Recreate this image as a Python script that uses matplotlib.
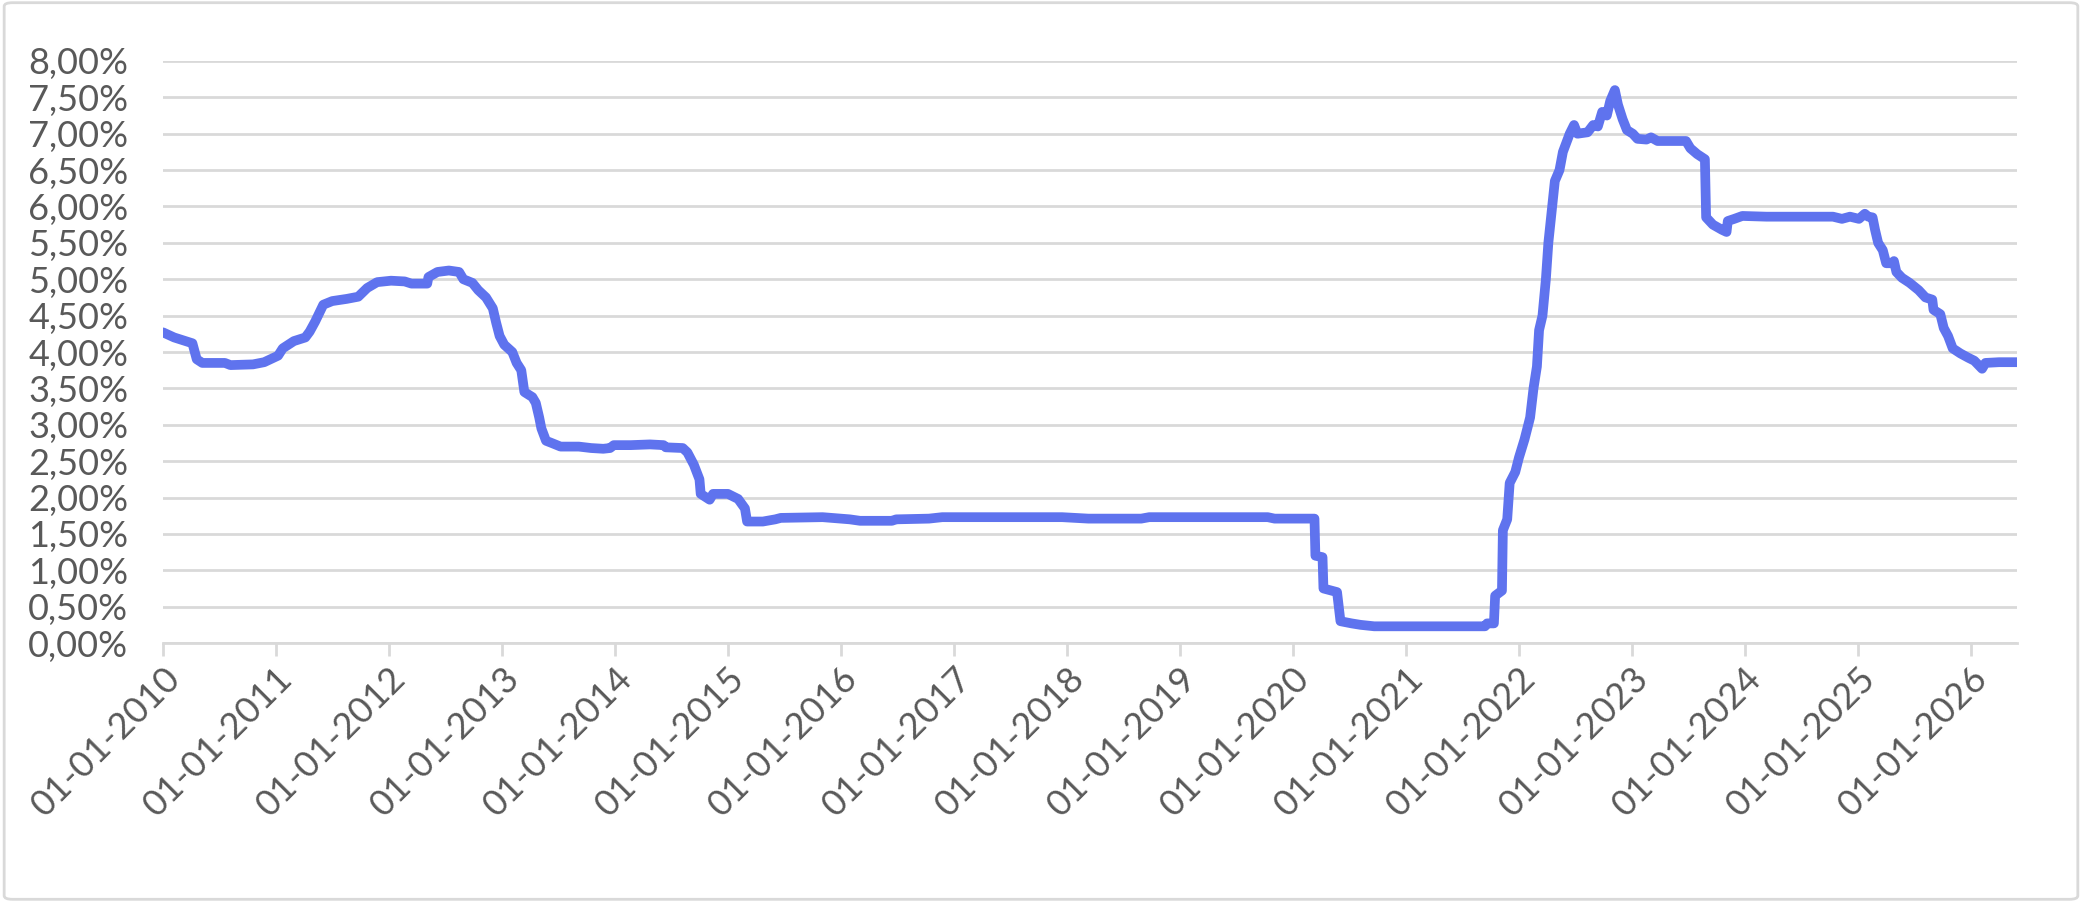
import matplotlib
matplotlib.use("Agg")
import matplotlib.pyplot as plt
import matplotlib.dates as mdates
from matplotlib.patches import FancyBboxPatch
from matplotlib.ticker import FuncFormatter, MultipleLocator
import pandas as pd

# series (rate in %)
dates = [
    "2010-01-01", "2010-02-06", "2010-03-15", "2010-04-06", "2010-04-20", "2010-05-08",
    "2010-07-20", "2010-08-07", "2010-10-19", "2010-11-24", "2011-01-08", "2011-01-23",
    "2011-02-28", "2011-04-06", "2011-04-20", "2011-05-08", "2011-06-03", "2011-07-02",
    "2011-08-18", "2011-09-24", "2011-10-23", "2011-11-24", "2012-01-08", "2012-02-21",
    "2012-03-14", "2012-05-04", "2012-05-08", "2012-06-06", "2012-07-13", "2012-08-15",
    "2012-08-29", "2012-09-27", "2012-10-16", "2012-11-10", "2012-12-02", "2012-12-13",
    "2012-12-24", "2013-01-08", "2013-02-03", "2013-02-17", "2013-03-04", "2013-03-14",
    "2013-04-09", "2013-04-20", "2013-05-01", "2013-05-08", "2013-05-23", "2013-06-10",
    "2013-07-09", "2013-09-06", "2013-10-16", "2013-11-24", "2013-12-16", "2013-12-28",
    "2014-02-21", "2014-04-24", "2014-06-07", "2014-06-14", "2014-08-08", "2014-08-23",
    "2014-09-13", "2014-10-01", "2014-10-05", "2014-11-03", "2014-11-14", "2015-01-01",
    "2015-02-03", "2015-02-25", "2015-03-04", "2015-04-24", "2015-06-03", "2015-06-21",
    "2015-11-03", "2016-01-30", "2016-03-03", "2016-06-14", "2016-06-28", "2016-10-12",
    "2016-11-24", "2017-12-16", "2018-03-11", "2018-08-29", "2018-09-24", "2019-10-12",
    "2019-11-03", "2020-03-11", "2020-03-14", "2020-04-06", "2020-04-09", "2020-05-23",
    "2020-06-03", "2020-07-09", "2020-08-07", "2020-09-20", "2021-09-13", "2021-09-20",
    "2021-10-12", "2021-10-16", "2021-11-07", "2021-11-10", "2021-11-24", "2021-12-02",
    "2021-12-20", "2022-01-01", "2022-01-19", "2022-02-06", "2022-02-17", "2022-02-28",
    "2022-03-07", "2022-03-18", "2022-03-29", "2022-04-06", "2022-04-16", "2022-04-27",
    "2022-05-12", "2022-05-23", "2022-06-14", "2022-06-28", "2022-07-09", "2022-08-11",
    "2022-08-29", "2022-09-13", "2022-09-27", "2022-10-12", "2022-10-23", "2022-11-07",
    "2022-11-17", "2022-12-02", "2022-12-16", "2023-01-04", "2023-01-19", "2023-02-17",
    "2023-03-04", "2023-03-25", "2023-06-25", "2023-07-09", "2023-07-31", "2023-08-25",
    "2023-08-29", "2023-09-20", "2023-10-19", "2023-11-03", "2023-11-07", "2023-11-28",
    "2023-12-24", "2024-03-11", "2024-10-12", "2024-11-10", "2024-12-06", "2025-01-04",
    "2025-01-23", "2025-02-03", "2025-02-17", "2025-02-25", "2025-03-07", "2025-03-22",
    "2025-04-02", "2025-04-20", "2025-04-27", "2025-05-05", "2025-05-23", "2025-06-17",
    "2025-07-16", "2025-08-07", "2025-08-29", "2025-09-02", "2025-09-24", "2025-10-05",
    "2025-10-19", "2025-11-03", "2025-11-28", "2025-12-24", "2026-01-12", "2026-01-30",
    "2026-02-06", "2026-02-17", "2026-04-02", "2026-05-30",
]
rates = [
    4.27, 4.20, 4.15, 4.12, 3.90, 3.85,
    3.85, 3.82, 3.83, 3.86, 3.95, 4.05,
    4.15, 4.20, 4.28, 4.42, 4.65, 4.70,
    4.73, 4.76, 4.88, 4.96, 4.98, 4.97,
    4.94, 4.94, 5.03, 5.10, 5.12, 5.10,
    5.00, 4.95, 4.85, 4.75, 4.60, 4.40,
    4.22, 4.10, 4.00, 3.85, 3.75, 3.45,
    3.38, 3.30, 3.10, 2.95, 2.78, 2.75,
    2.70, 2.70, 2.68, 2.67, 2.68, 2.72,
    2.72, 2.73, 2.72, 2.69, 2.68, 2.62,
    2.45, 2.25, 2.05, 1.97, 2.05, 2.05,
    1.98, 1.85, 1.67, 1.67, 1.70, 1.72,
    1.73, 1.70, 1.68, 1.68, 1.70, 1.71,
    1.73, 1.73, 1.71, 1.71, 1.73, 1.73,
    1.71, 1.71, 1.20, 1.18, 0.75, 0.70,
    0.30, 0.27, 0.25, 0.23, 0.23, 0.27,
    0.27, 0.65, 0.72, 1.55, 1.70, 2.20,
    2.35, 2.55, 2.80, 3.10, 3.50, 3.80,
    4.30, 4.50, 5.00, 5.50, 5.90, 6.35,
    6.50, 6.75, 7.00, 7.12, 7.00, 7.02,
    7.12, 7.10, 7.30, 7.25, 7.45, 7.60,
    7.40, 7.20, 7.05, 7.00, 6.93, 6.92,
    6.95, 6.90, 6.90, 6.80, 6.72, 6.65,
    5.85, 5.75, 5.68, 5.65, 5.80, 5.83,
    5.87, 5.86, 5.86, 5.83, 5.86, 5.83,
    5.90, 5.86, 5.85, 5.68, 5.50, 5.40,
    5.22, 5.22, 5.25, 5.10, 5.02, 4.95,
    4.85, 4.75, 4.72, 4.58, 4.52, 4.33,
    4.22, 4.05, 3.98, 3.92, 3.88, 3.80,
    3.77, 3.85, 3.86, 3.86,
]
x_start = "2010-01-01"
x_end = "2026-05-30"
y_max = 8.0

line_color = "#5F73EE"
grid_color = "#D9D9D9"
text_color = "#595959"

plt.rcParams["font.family"] = ["Lato", "DejaVu Sans"]

x = pd.to_datetime(dates)

fig = plt.figure(figsize=(20.82, 9.02), dpi=100)
ax = fig.add_axes([0.0783, 0.2871, 0.8905, 0.6453])

ax.plot(x, rates, color=line_color, lw=7, solid_joinstyle="round",
        solid_capstyle="round", zorder=3)

ax.set_xlim(pd.Timestamp(x_start), pd.Timestamp(x_end))
ax.set_ylim(0, y_max)

ax.yaxis.set_major_locator(MultipleLocator(0.5))
ax.yaxis.set_major_formatter(FuncFormatter(lambda v, p: f"{v:.2f}".replace(".", ",") + "%"))
ax.grid(axis="y", color=grid_color, lw=2, zorder=0)
ax.set_axisbelow(True)

ax.xaxis.set_major_locator(mdates.YearLocator())
ax.xaxis.set_major_formatter(mdates.DateFormatter("%d-%m-%Y"))

for s in ["top", "right", "left"]:
    ax.spines[s].set_visible(False)
ax.spines["bottom"].set_color(grid_color)
ax.spines["bottom"].set_linewidth(2)

ax.tick_params(axis="y", length=0, pad=25, labelsize=26, labelcolor=text_color)
ax.tick_params(axis="x", length=9, width=2, color=grid_color, pad=4,
               labelsize=26, labelcolor=text_color)
for lab in ax.get_xticklabels():
    lab.set_rotation(45)
    lab.set_ha("right")
    lab.set_va("top")
    lab.set_rotation_mode("anchor")

# chart area border
fig.patches.append(FancyBboxPatch((0.002, 0.003), 0.996, 0.994,
                                  boxstyle="round,pad=0,rounding_size=0.004",
                                  transform=fig.transFigure, fill=False,
                                  ec=grid_color, lw=2))

fig.savefig("out.png", dpi=100)
